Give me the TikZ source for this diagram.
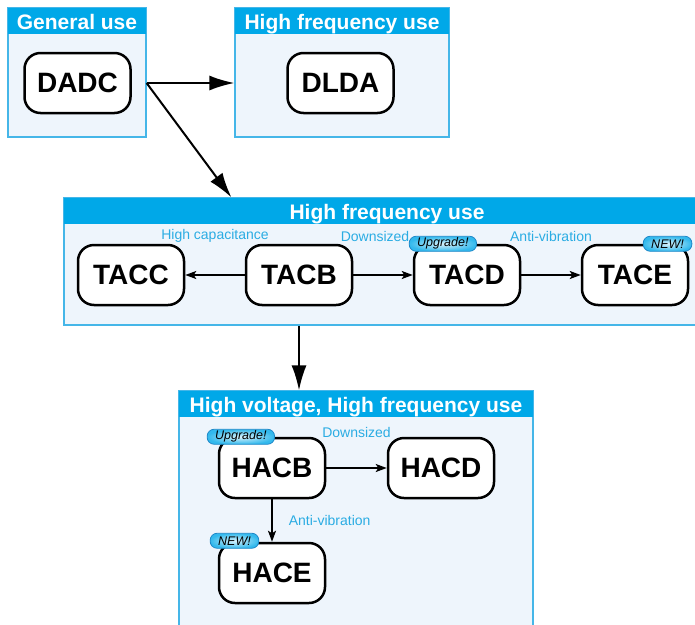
\documentclass[tikz,border=0pt]{standalone}
\usepackage{fontspec}
\setmainfont{Liberation Sans}
\usetikzlibrary{positioning, arrows.meta}
\definecolor{headcyan}{HTML}{00A8E8}
\definecolor{boxfill}{HTML}{EEF5FC}
\definecolor{boxline}{HTML}{45B6E8}
\definecolor{notecyan}{HTML}{2AACE3}
\definecolor{badgerim}{HTML}{1E88C8}
\tikzset{
  groupbox/.style={
    rectangle,
    draw=boxline, line width=1.2pt,
    fill=boxfill,
    inner sep=0pt},
  grouphead/.style={
    rectangle,
    fill=headcyan,
    text=white,
    inner sep=0pt,
    minimum height=26pt,
    text height=19pt, text depth=1pt,
    anchor=north,
    font=\fontsize{21}{23}\selectfont\bfseries},
  partbox/.style={
    rectangle,
    rounded corners=16pt,
    draw=black, line width=2.5pt,
    fill=white,
    minimum width=106pt,
    minimum height=60pt,
    text centered,
    font=\fontsize{28}{30}\selectfont\bfseries},
  badge/.style={
    rectangle,
    rounded corners=7pt,
    draw=badgerim, line width=0.8pt,
    inner color=white!85!headcyan,
    outer color=headcyan!80,
    minimum height=15pt,
    inner xsep=8pt, inner ysep=0pt,
    font=\fontsize{12.5}{12.5}\selectfont\itshape},
  note/.style={text=notecyan, inner sep=0pt, font=\fontsize{14}{16}\selectfont},
  bigflow/.style={draw, line width=2pt, -{Latex[length=25pt,width=15pt]}},
  flow/.style={draw, line width=1.6pt, -{Stealth[length=11pt,width=8pt,inset=2.5pt]}},
}
\begin{document}
\begin{tikzpicture}[x=1pt, y=-1pt, node distance=59.5pt]
  \useasboundingbox (0,0) rectangle (695,624);
  \clip (0,0) rectangle (695,624);
  % group boxes
  \node[groupbox, minimum width=138pt, minimum height=129pt] (GeneralUse) at (77,72.5) {};
  \node[grouphead, minimum width=138pt] (GeneralHead) at (GeneralUse.north) {General use};
  \node[groupbox, minimum width=214pt, minimum height=129pt] (HighFreqTop) at (342,72.5) {};
  \node[grouphead, minimum width=214pt] (HighFreqTopHead) at (HighFreqTop.north) {High frequency use};
  \node[groupbox, minimum width=646pt, minimum height=127pt] (HighFreqMid) at (387,261.5) {};
  \node[grouphead, minimum width=646pt] (HighFreqMidHead) at (HighFreqMid.north) {High frequency use};
  \node[groupbox, minimum width=354pt, minimum height=239pt] (HighVolt) at (356,510.5) {};
  \node[grouphead, minimum width=354pt] (HighVoltHead) at (HighVolt.north) {High voltage, High frequency use};

  % parts
  \node[partbox] (DADC) at (77.5,83) {DADC};
  \node[partbox] (DLDA) at (340.5,83) {DLDA};

  \node[partbox] (TACC) at (131,275) {TACC};
  \node[partbox, right=of TACC] (TACB) {TACB};
  \node[partbox, right=of TACB] (TACD) {TACD};
  \node[partbox, right=of TACD] (TACE) {TACE};

  \node[partbox] (HACB) at (272,468) {HACB};
  \node[partbox, right=60.5pt of HACB] (HACD) {HACD};
  \node[partbox, below=42.5pt of HACB] (HACE) {HACE};

  % badges
  \node[badge, anchor=west] (UpTACD) at ([xshift=-4pt]TACD.north west) {Upgrade!};
  \node[badge, anchor=east] (NewTACE) at ([xshift=3pt]TACE.north east) {NEW!};
  \node[badge, anchor=west] (UpHACB) at ([xshift=-11pt]HACB.north west) {Upgrade!};
  \node[badge, anchor=west] (NewHACE) at ([xshift=-8pt,yshift=1pt]HACE.north west) {NEW!};

  % links between groups
  \coordinate (MidTip) at ([xshift=168pt]HighFreqMid.north west);
  \draw[bigflow] (DADC -| GeneralUse.east) -- (DADC -| HighFreqTop.west);
  \draw[bigflow] (DADC -| GeneralUse.east) -- (MidTip);
  \draw[bigflow] (TACB |- HighFreqMid.south) -- (TACB |- HighVolt.north);

  % links between parts
  \draw[flow] (TACB) -- (TACC) node[note, midway, yshift=39pt] (NoteCap) {High capacitance};
  \draw[flow] (TACB) -- (TACD) node[note, midway, xshift=-8pt, yshift=39pt] (NoteDownMid) {Downsized};
  \draw[flow] (TACD) -- (TACE) node[note, midway, yshift=39pt] (NoteVibMid) {Anti-vibration};
  \draw[flow] (HACB) -- (HACD) node[note, midway, yshift=36pt] (NoteDownLow) {Downsized};
  \draw[flow] (HACB) -- (HACE) node[note, midway, right=16pt] (NoteVibLow) {Anti-vibration};
\end{tikzpicture}
\end{document}
